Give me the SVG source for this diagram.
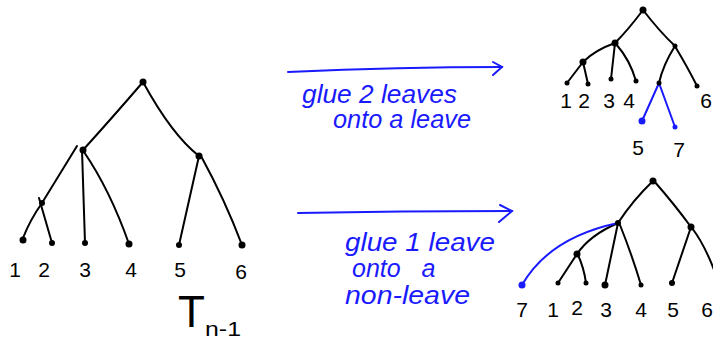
<svg xmlns="http://www.w3.org/2000/svg" width="713" height="342" viewBox="0 0 713 342">
<style>
.e{fill:none;stroke:#000;stroke-width:2;stroke-linecap:round}
.b{fill:none;stroke:#1a1aff;stroke-width:2;stroke-linecap:round}
.n{fill:#000}
.nb{fill:#1a1aff}
.lab{font-family:"Liberation Sans",Arial,sans-serif;font-size:21px;fill:#000;text-anchor:middle}
.hw{font-family:"Liberation Sans",Arial,sans-serif;font-style:italic;font-size:25px;fill:#1a1aff}
</style>
<rect width="713" height="342" fill="#fff"/>
<g id="connectors">
<!-- left tree -->
<path class="e" d="M143,82 Q112,118 83,150"/>
<path class="e" d="M143,82 Q172,135 199,156"/>
<path class="e" d="M77,146 L42,203 Q30,220 23,238"/>
<path class="e" d="M39,198 L52,243"/>
<path class="e" d="M82,150 L85,243"/>
<path class="e" d="M84,152 Q110,190 129,244"/>
<path class="e" d="M199,156 L179,245"/>
<path class="e" d="M201,156 Q225,200 242,245"/>
<!-- top-right tree -->
<path class="e" d="M643,10 Q628,30 615,43"/>
<path class="e" d="M643,10 Q660,32 675,46"/>
<path class="e" d="M615,43 Q595,50 583,62"/>
<path class="e" d="M615,43 L611,79"/>
<path class="e" d="M616,44 Q630,60 636,81"/>
<path class="e" d="M583,62 L567,83"/>
<path class="e" d="M583,62 L588,84"/>
<path class="e" d="M675,46 Q663,65 659,83"/>
<path class="e" d="M676,48 Q688,68 697,86"/>
<path class="b" d="M659,83 L642,121"/>
<path class="b" d="M659,83 L675,127"/>
<!-- bottom-right tree -->
<path class="e" d="M653,181 Q633,200 618,223"/>
<path class="e" d="M654,181 Q675,205 691,227"/>
<path class="e" d="M618,223 Q590,235 577,254"/>
<path class="e" d="M618,223 L605,285"/>
<path class="e" d="M620,225 Q632,255 641,285"/>
<path class="e" d="M577,254 L558,283"/>
<path class="e" d="M578,255 Q584,268 586,283"/>
<path class="e" d="M691,227 L672,283"/>
<path class="e" d="M692,228 Q705,245 716,275"/>
<path class="b" d="M618,223 C585,230 545,245 522,285"/>
<!-- arrows -->
<path class="b" d="M288,72 Q400,67 502,67"/>
<path class="b" d="M493,62 L502,67 L493,75"/>
<path class="b" d="M298,213 Q400,211 512,211"/>
<path class="b" d="M500,205 L512,211 L499,222"/>
</g>
<g id="left-tree">
<circle class="n" cx="143" cy="82" r="3.5"/>
<circle class="n" cx="83" cy="150" r="3.5"/>
<circle class="n" cx="199" cy="156" r="3.5"/>
<circle class="n" cx="42" cy="203" r="3"/>
<circle class="n" cx="23" cy="240" r="3.5"/>
<circle class="n" cx="52" cy="243" r="3"/>
<circle class="n" cx="85" cy="243" r="3"/>
<circle class="n" cx="129" cy="244" r="3.5"/>
<circle class="n" cx="179" cy="245" r="3"/>
<circle class="n" cx="242" cy="245" r="3.5"/>
<text class="lab" x="15" y="277">1</text>
<text class="lab" x="44" y="277">2</text>
<text class="lab" x="85" y="277">3</text>
<text class="lab" x="131" y="277">4</text>
<text class="lab" x="180" y="277">5</text>
<text class="lab" x="241" y="279">6</text>
<text x="178" y="327" style="font-family:'Liberation Sans',Arial,sans-serif;font-size:44px;fill:#000">T</text>
<text x="205" y="336" textLength="36" lengthAdjust="spacingAndGlyphs" style="font-family:'Liberation Sans',Arial,sans-serif;font-size:21px;fill:#000">n-1</text>
</g>
<g id="top-right-tree">
<circle class="n" cx="643" cy="10" r="3.5"/>
<circle class="n" cx="615" cy="43" r="3.5"/>
<circle class="n" cx="675" cy="46" r="2.5"/>
<circle class="n" cx="583" cy="62" r="3.5"/>
<circle class="n" cx="567" cy="83" r="2.5"/>
<circle class="n" cx="588" cy="84" r="2.5"/>
<circle class="n" cx="611" cy="79" r="2.5"/>
<circle class="n" cx="636" cy="81" r="2.5"/>
<circle class="n" cx="659" cy="83" r="2.5"/>
<circle class="n" cx="697" cy="86" r="2.5"/>
<circle class="nb" cx="642" cy="121" r="3.5"/>
<circle class="nb" cx="675" cy="127" r="2.5"/>
<text class="lab" x="566" y="108">1</text>
<text class="lab" x="584" y="108">2</text>
<text class="lab" x="609" y="108">3</text>
<text class="lab" x="629" y="108">4</text>
<text class="lab" x="706" y="108">6</text>
<text class="lab" x="638" y="155">5</text>
<text class="lab" x="679" y="157">7</text>
</g>
<g id="bottom-right-tree">
<circle class="n" cx="653" cy="181" r="3.5"/>
<circle class="n" cx="618" cy="223" r="3"/>
<circle class="n" cx="691" cy="227" r="3.5"/>
<circle class="n" cx="577" cy="254" r="3.5"/>
<circle class="n" cx="558" cy="283" r="2.5"/>
<circle class="n" cx="586" cy="283" r="2.5"/>
<circle class="n" cx="605" cy="285" r="3.5"/>
<circle class="n" cx="641" cy="285" r="2.5"/>
<circle class="n" cx="672" cy="283" r="3"/>
<circle class="nb" cx="522" cy="285" r="3.5"/>
<text class="lab" x="522" y="317">7</text>
<text class="lab" x="553" y="317">1</text>
<text class="lab" x="577" y="315">2</text>
<text class="lab" x="606" y="317">3</text>
<text class="lab" x="641" y="317">4</text>
<text class="lab" x="673" y="317">5</text>
<text class="lab" x="707" y="317">6</text>
</g>
<g id="labels">
<text class="hw" x="302" y="103" textLength="155" lengthAdjust="spacingAndGlyphs">glue 2 leaves</text>
<text class="hw" x="333" y="128" textLength="138" lengthAdjust="spacingAndGlyphs">onto a leave</text>
<text class="hw" x="345" y="251" textLength="150" lengthAdjust="spacingAndGlyphs">glue 1 leave</text>
<text class="hw" x="352" y="277" word-spacing="14">onto a</text>
<text class="hw" x="345" y="304" textLength="125" lengthAdjust="spacingAndGlyphs">non-leave</text>
</g>
</svg>
